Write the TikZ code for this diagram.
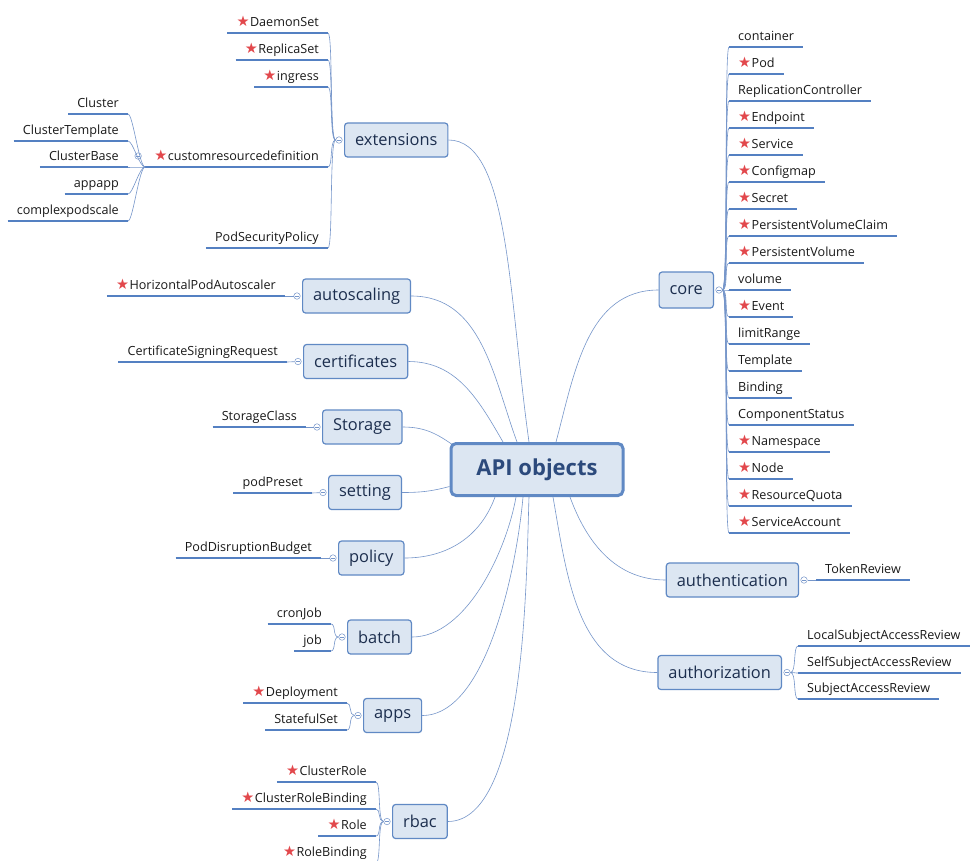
\documentclass[tikz,border=0pt]{standalone}
\usepackage{fontspec}
\setmainfont{Open Sans}
\newfontfamily\starfont{DejaVu Sans}
\usetikzlibrary{positioning}

\definecolor{boxfill}{RGB}{220,230,242}
\definecolor{boxline}{RGB}{96,137,196}
\definecolor{boxtext}{RGB}{28,46,78}
\definecolor{apitext}{RGB}{44,74,124}
\definecolor{linkc}{RGB}{118,150,202}
\definecolor{ulinec}{RGB}{84,128,194}
\definecolor{starc}{RGB}{226,72,76}
\definecolor{leaftext}{RGB}{25,25,25}

\newcommand{\st}{{\color{starc}\starfont\fontsize{14.5}{15}\selectfont ★}\hspace{0.5pt}}

\begin{document}
\begin{tikzpicture}[x=1pt, y=-1pt,
  node distance = 1.5pt,
  root/.style = {rectangle, rounded corners=5pt, draw=boxline, fill=boxfill,
                 line width=3pt, minimum width=172pt, minimum height=52pt,
                 font=\fontsize{22}{26}\selectfont\bfseries, text=apitext},
  topic/.style = {rectangle, rounded corners=3pt, draw=boxline, fill=boxfill,
                 line width=1.2pt, minimum height=34pt, inner xsep=10.5pt,
                 font=\fontsize{16.4}{18}\selectfont, text=boxtext},
  leaf/.style = {inner xsep=9pt, inner ysep=0pt, text height=10pt, text depth=6.5pt,
                 font=\fontsize{12.6}{15}\selectfont, text=leaftext,
                 append after command={(\tikzlastnode.south west) edge[uline] (\tikzlastnode.south east)}},
  uline/.style = {draw=ulinec, line width=1.8pt},
  link/.style = {draw=linkc, line width=0.6pt},
  tgl/.style = {circle, draw=linkc, fill=white, line width=0.5pt, inner sep=0pt, minimum size=6.5pt,
                path picture={\draw[linkc, line width=0.5pt] ([xshift=-2pt]path picture bounding box.center) -- ([xshift=2pt]path picture bounding box.center);}}
]
\clip (0,0) rectangle (980,860);
\fill[white] (0,0) rectangle (980,860);

% central topic
\node[root] (api) at (537,469.5) {API objects};

% branch topics
\node[topic, anchor=west] (ext)   at (344,140) {extensions};
\node[topic, anchor=west] (autos) at (302,296) {autoscaling};
\node[topic, anchor=west] (cert)  at (303,361.5) {certificates};
\node[topic, anchor=west] (stor)  at (322,427) {Storage};
\node[topic, anchor=west] (sett)  at (328,492.5) {setting};
\node[topic, anchor=west] (pol)   at (338,558) {policy};
\node[topic, anchor=west] (bat)   at (347,637) {batch};
\node[topic, anchor=west] (apps)  at (363,715.5) {apps};
\node[topic, anchor=west] (rbac)  at (392,821.5) {rbac};
\node[topic, anchor=east, minimum height=36pt] (core) at (714,290) {core};
\node[topic, anchor=east] (authn) at (799,580) {authentication};
\node[topic, anchor=east] (authz) at (782,672.5) {authorization};

\foreach \t in {ext, autos, cert, stor, sett, pol, bat, apps, rbac}
  \node[tgl, left=of \t] (\t-t) {};
\foreach \t in {core, authn, authz}
  \node[tgl, right=of \t] (\t-t) {};

% links from the central topic
\draw[link] (ext.east)   to[out=0, in=98, out looseness=0.5, in looseness=1.2] ([xshift=-8pt]api.north);
\draw[link] (autos.east) to[out=0, in=110] ([xshift=-20pt]api.north);
\draw[link] (cert.east)  to[out=0, in=120] ([xshift=-34pt]api.north);
\draw[link] (stor.east)  to[out=0, in=145] ([xshift=2pt, yshift=-2pt]api.north west);
\draw[link] (sett.east)  to[out=0, in=195] ([yshift=-17pt]api.west);
\draw[link] (pol.east)   to[out=0, in=250] ([xshift=-42pt]api.south);
\draw[link] (bat.east)   to[out=0, in=260, looseness=0.8] ([xshift=-21pt]api.south);
\draw[link] (apps.east)  to[out=0, in=265, looseness=0.7] ([xshift=-14pt]api.south);
\draw[link] (rbac.east)  to[out=0, in=268, looseness=0.6] ([xshift=-8pt]api.south);
\draw[link] (core.west)  to[out=180, in=75] ([xshift=19pt]api.north);
\draw[link] (authz.west) to[out=180, in=280] ([xshift=16pt]api.south);
\draw[link] (authn.west) to[out=180, in=290] ([xshift=33pt]api.south);

% core
\foreach \txt [count=\i from 0] in {container, \st Pod, ReplicationController, \st Endpoint,
    \st Service, \st Configmap, \st Secret, \st PersistentVolumeClaim, \st PersistentVolume,
    volume, \st Event, limitRange, Template, Binding, ComponentStatus, \st Namespace,
    \st Node, \st ResourceQuota, \st ServiceAccount}
  \node[leaf, anchor=south west] (core\i) at (729, 47+27*\i) {\txt};
\foreach \i in {0,...,18}
  \draw[link] (core-t.east) .. controls +(6,0) and +(-5,0) .. (core\i.south west);

% extensions
\foreach \n/\y/\txt in {e1/33/\st DaemonSet, e2/60/\st ReplicaSet, e3/87/\st ingress,
    crd/167/\st customresourcedefinition, e5/248/PodSecurityPolicy}
  \node[leaf, anchor=south east] (\n) at (328,\y) {\txt};
\foreach \n in {e1, e2, e3, crd, e5}
  \draw[link] (ext-t.west) .. controls +(-6,0) and +(5,0) .. (\n.south east);

\foreach \n/\y/\txt in {k1/114/Cluster, k2/141/ClusterTemplate, k3/167/ClusterBase,
    k4/194/appapp, k5/221/complexpodscale}
  \node[leaf, anchor=south east] (\n) at (128,\y) {\txt};
\node[tgl] (crd-t) at ([xshift=-7pt, yshift=11pt]crd.south west) {};
\foreach \n in {k1, k2, k3, k4, k5}
  \draw[link] (crd.south west) .. controls +(-6,0) and +(5,0) .. (\n.south east);

% one child each
\node[leaf, anchor=south east] (hpa) at (285,296) {\st HorizontalPodAutoscaler};
\node[leaf, anchor=south east] (csr) at (287,362) {CertificateSigningRequest};
\node[leaf, anchor=south east] (sc)  at (306,427) {StorageClass};
\node[leaf, anchor=south east] (pp)  at (312,493) {podPreset};
\node[leaf, anchor=south east] (pdb) at (321,558) {PodDisruptionBudget};
\node[leaf, anchor=south west] (tr)  at (816,580) {TokenReview};
\draw[link] (autos-t) -- (hpa.south east);
\draw[link] (cert-t) -- (csr.south east);
\draw[link] (stor-t) -- (sc.south east);
\draw[link] (sett-t) -- (pp.south east);
\draw[link] (pol-t) -- (pdb.south east);
\draw[link] (authn-t) -- (tr.south west);

% batch, apps, rbac
\node[leaf, anchor=south east] (b1) at (331,624) {cronJob};
\node[leaf, anchor=south east] (b2) at (331,651) {job};
\node[leaf, anchor=south east] (a1) at (347,703) {\st Deployment};
\node[leaf, anchor=south east] (a2) at (347,730) {StatefulSet};
\foreach \n/\y/\txt in {r1/782/\st ClusterRole, r2/809/\st ClusterRoleBinding,
    r3/836/\st Role, r4/863/\st RoleBinding}
  \node[leaf, anchor=south east] (\n) at (376,\y) {\txt};
\foreach \t/\n in {bat/b1, bat/b2, apps/a1, apps/a2, rbac/r1, rbac/r2, rbac/r3, rbac/r4}
  \draw[link] (\t-t.west) .. controls +(-6,0) and +(5,0) .. (\n.south east);

% authorization
\foreach \n/\y/\txt in {z1/646/LocalSubjectAccessReview, z2/673/SelfSubjectAccessReview,
    z3/699/SubjectAccessReview}
  \node[leaf, anchor=south west] (\n) at (798,\y) {\txt};
\foreach \n in {z1, z2, z3}
  \draw[link] (authz-t.east) .. controls +(6,0) and +(-5,0) .. (\n.south west);
\end{tikzpicture}
\end{document}
